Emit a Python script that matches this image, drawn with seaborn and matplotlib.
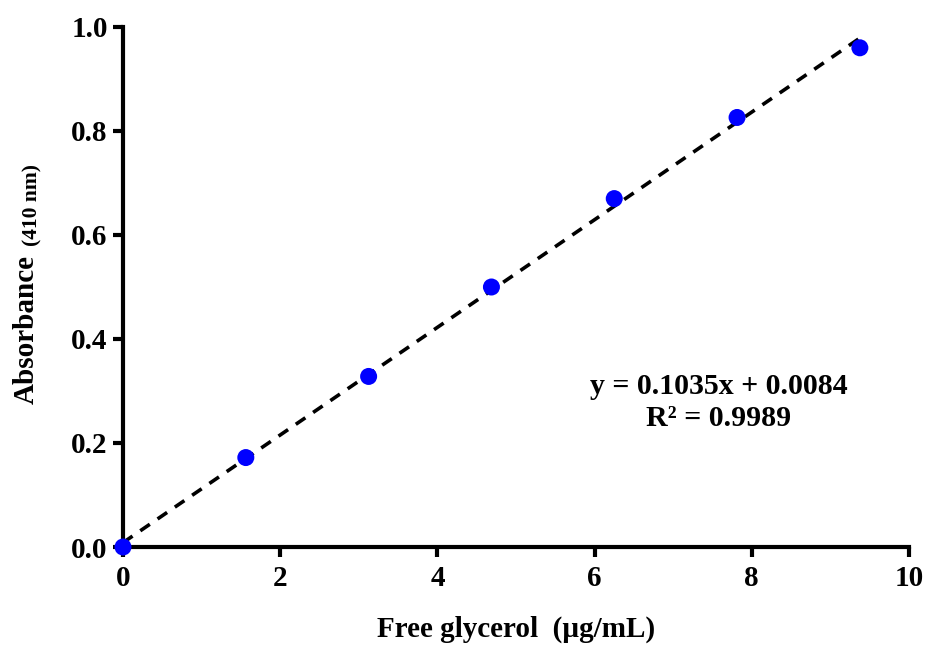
import matplotlib
matplotlib.use("Agg")
import matplotlib.pyplot as plt
import seaborn as sns
import numpy as np
import pandas as pd

# Data
glycerol = [0.0, 1.5625, 3.125, 4.6875, 6.25, 7.8125, 9.375]
absorbance = [0.0, 0.172, 0.328, 0.500, 0.670, 0.826, 0.960]
slope = 0.1035
intercept = 0.0084
r2 = 0.9989
x_ticks = [0, 2, 4, 6, 8, 10]
y_ticks = [0.0, 0.2, 0.4, 0.6, 0.8, 1.0]

sns.set_theme(style="ticks")
plt.rcParams['font.family'] = ['Liberation Serif', 'DejaVu Serif']
plt.rcParams['font.weight'] = 'bold'
plt.rcParams['text.color'] = 'black'
plt.rcParams['xtick.color'] = 'black'
plt.rcParams['ytick.color'] = 'black'
plt.rcParams['axes.labelcolor'] = 'black'

df = pd.DataFrame({"x": glycerol, "y": absorbance})
fit_x = np.array([glycerol[0], glycerol[-1]])
fit_df = pd.DataFrame({"x": fit_x, "y": slope * fit_x + intercept})

fig = plt.figure(figsize=(9.3, 6.47), dpi=100)
ax = fig.add_axes([123/930, 1-547/647, (909-123)/930, (547-27)/647])

sns.lineplot(data=fit_df, x="x", y="y", ax=ax, color="black", lw=2.6,
             linestyle=(0, (3.2, 2.6)), zorder=2)
sns.scatterplot(data=df, x="x", y="y", ax=ax, color="#0000FF", s=150,
                edgecolor="none", zorder=3, clip_on=False)

ax.set_xlim(0, 10)
ax.set_ylim(0, 1.0)
ax.set_xticks(x_ticks)
ax.set_xticklabels([str(t) for t in x_ticks])
ax.set_yticks(y_ticks)
ax.set_yticklabels([f"{t:.1f}" for t in y_ticks])
for s in ["top", "right"]:
    ax.spines[s].set_visible(False)
for s in ["left", "bottom"]:
    ax.spines[s].set_linewidth(3)
    ax.spines[s].set_color("black")
ax.tick_params(axis="both", width=3, length=7, color="black", labelsize=21,
               direction="out", labelcolor="black")
ax.tick_params(axis="x", pad=6)
ax.tick_params(axis="y", pad=4)
for lab in ax.get_xticklabels() + ax.get_yticklabels():
    lab.set_fontweight("bold")

ax.set_xlabel("Free glycerol  (µg/mL)", fontsize=21, fontweight="bold",
              labelpad=17, color="black")
ax.set_ylabel("")

# y label in two parts
fig.text(26/930, 1-330/647, "Absorbance", rotation=90, fontsize=21,
         fontweight="bold", ha="center", va="center", color="black")
fig.text(32/930, 1-205/647, "(410 nm)", rotation=90, fontsize=15.5,
         fontweight="bold", ha="center", va="center", color="black")

ax.text(7.58, 0.278, f"y = {slope}x + {intercept}\nR² = {r2}", ha="center",
        va="center", fontsize=21.5, fontweight="bold", linespacing=1.22,
        multialignment="center", color="black")

fig.savefig("out.png", dpi=100)
